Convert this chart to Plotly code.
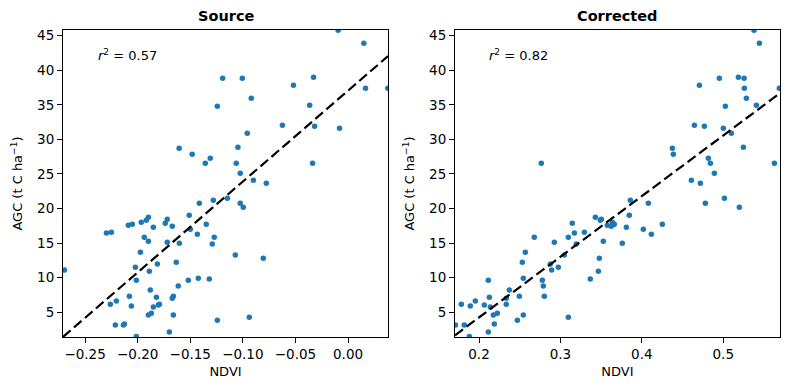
import plotly.graph_objects as go

# AGC values (t C ha^-1), shared by both panels
agc = [45.8, 43.9, 38.84, 38.84, 38.99, 37.83, 37.4, 37.4, 35.95, 34.8,
       34.94, 32.05, 31.9, 31.6, 30.9, 28.73, 27.86, 27.28, 26.56, 26.56,
       26.56, 28.87, 25.1, 24.1, 23.67, 21.5, 21.2, 20.78, 20.78, 20.2,
       19.05, 18.76, 18.47, 18.32, 18.03, 17.89, 17.74, 17.74, 17.6, 17.46,
       17.31, 17.0, 16.59, 16.45, 16.3, 15.87, 15.87, 15.29, 15.14, 15.0,
       14.86, 13.7, 13.27, 12.83, 12.25, 11.97, 11.53, 11.1, 10.95, 9.94,
       9.8, 9.65, 9.65, 8.79, 8.21, 7.34, 7.34, 7.19, 7.05, 6.62,
       6.18, 6.18, 6.04, 5.9, 5.75, 4.88, 4.6, 4.6, 3.87, 4.3,
       3.3, 3.15, 3.15, 2.14, 1.5]

ndvi_source = [-0.0094, 0.015, -0.1192, -0.1005, -0.0328, -0.0519, 0.0166, 0.0378, -0.0920, -0.1243,
               -0.0365, -0.0624, -0.0318, -0.0081, -0.0958, -0.1606, -0.1482, -0.1310, -0.1357, -0.1063,
               -0.0337, -0.1047, -0.1025, -0.0900, -0.0777, -0.1148, -0.1281, -0.1414, -0.1025, -0.0996,
               -0.1510, -0.1898, -0.1719, -0.1918, -0.1966, -0.1738, -0.2051, -0.1348, -0.2089, -0.1671,
               -0.1851, -0.1500, -0.2250, -0.2297, -0.1433, -0.1272, -0.1937, -0.1898, -0.1719, -0.1604,
               -0.1291, -0.1974, -0.1072, -0.0806, -0.1633, -0.1813, -0.2022, -0.2696, -0.1889, -0.1424,
               -0.1319, -0.2013, -0.1519, -0.1614, -0.1880, -0.2079, -0.1661, -0.1822, -0.1671, -0.2203,
               -0.2260, -0.1794, -0.1803, -0.2060, -0.1851, -0.1870, -0.1898, -0.1661, -0.1243, -0.0939,
               -0.2126, -0.2212, -0.2136, -0.1699, -0.2013]

ndvi_corrected = [0.5378, 0.5444, 0.4952, 0.5256, 0.5186, 0.4707, 0.5259, 0.5689, 0.5284, 0.5026,
                  0.5407, 0.4645, 0.4768, 0.5001, 0.5100, 0.4375, 0.4387, 0.4817, 0.4842, 0.5628,
                  0.2765, 0.5247, 0.4891, 0.4608, 0.4719, 0.5014, 0.3859, 0.4080, 0.4780, 0.5198,
                  0.3846, 0.3429, 0.3503, 0.3490, 0.3638, 0.3146, 0.4252, 0.3662, 0.3576, 0.3625,
                  0.3810, 0.4018, 0.3294, 0.3171, 0.4117, 0.3097, 0.2679, 0.3527, 0.2925, 0.3760,
                  0.3195, 0.2569, 0.3048, 0.3478, 0.2532, 0.2876, 0.2974, 0.2893, 0.3466, 0.2544,
                  0.3367, 0.2114, 0.2778, 0.2790, 0.2372, 0.2495, 0.2802, 0.2127, 0.2335, 0.1955,
                  0.1783, 0.2335, 0.2065, 0.1893, 0.2139, 0.2225, 0.2176, 0.2544, 0.2471, 0.3097,
                  0.2188, 0.1819, 0.1710, 0.2114, 0.1881]

# regression fits (slope, intercept) and r^2
fit_source = (131.4, 37.05)
fit_corrected = (87.7, -13.28)
r2_source = 0.57
r2_corrected = 0.82

xrange_source = [-0.271, 0.038]
xrange_corrected = [0.1705, 0.5697]
yrange = [1.43, 45.82]

titles = ["Source", "Corrected"]
xtick_source = [-0.25, -0.20, -0.15, -0.10, -0.05, 0.00]
xtick_corrected = [0.2, 0.3, 0.4, 0.5]
ytick_vals = [5, 10, 15, 20, 25, 30, 35, 40, 45]

FONT = "DejaVu Sans"
BLUE = "#1f77b4"

fig = go.Figure()

panels = [
    ("x", "y", ndvi_source, fit_source, xrange_source, r2_source, titles[0]),
    ("x2", "y2", ndvi_corrected, fit_corrected, xrange_corrected, r2_corrected, titles[1]),
]

for xa, ya, xs, (m, b), xr, r2, title in panels:
    fig.add_trace(go.Scatter(x=xs, y=agc, mode="markers", xaxis=xa, yaxis=ya,
                             marker=dict(color=BLUE, size=5.5, line=dict(width=0)),
                             showlegend=False, cliponaxis=True))
    lx = [xr[0], xr[1]]
    ly = [m * v + b for v in lx]
    fig.add_trace(go.Scatter(x=lx, y=ly, mode="lines", xaxis=xa, yaxis=ya,
                             line=dict(color="black", width=2.2, dash="10px,4.5px"),
                             showlegend=False))
    xdom = "x domain" if xa == "x" else "x2 domain"
    ydom = "y domain" if ya == "y" else "y2 domain"
    fig.add_annotation(x=0.1, y=0.918, xref=xdom, yref=ydom, xanchor="left", yanchor="middle",
                       text=f"<i>r</i><sup>2</sup> = {r2:.2f}", showarrow=False,
                       font=dict(family=FONT, size=13, color="black"))
    fig.add_annotation(x=0.5, y=1.0, xref=xdom, yref="paper", xanchor="center", yanchor="bottom",
                       yshift=4, text=f"<b>{title}</b>", showarrow=False,
                       font=dict(family=FONT, size=14.5, color="black"))

axis_common = dict(showgrid=False, zeroline=False, showline=True, linecolor="black", linewidth=1,
                   mirror=True, ticks="outside", ticklen=5, tickwidth=1, tickcolor="black",
                   tickfont=dict(family=FONT, size=13.5, color="black"))

fig.update_layout(
    width=789, height=390,
    margin=dict(l=63, r=9, t=30, b=53),
    paper_bgcolor="white", plot_bgcolor="white",
    xaxis=dict(domain=[0, 0.4533], range=xrange_source, tickvals=xtick_source,
               tickformat=".2f", title=dict(text="NDVI", standoff=5,
                                            font=dict(family=FONT, size=13, color="black")),
               **axis_common),
    xaxis2=dict(domain=[0.5467, 1], range=xrange_corrected, tickvals=xtick_corrected,
                tickformat=".1f", title=dict(text="NDVI", standoff=5,
                                             font=dict(family=FONT, size=13, color="black")),
                **axis_common),
    yaxis=dict(domain=[0, 1], range=yrange, tickvals=ytick_vals, anchor="x",
               title=dict(text="AGC (t C ha<sup>−1</sup>)", standoff=11,
                          font=dict(family=FONT, size=13, color="black")),
               **axis_common),
    yaxis2=dict(domain=[0, 1], range=yrange, tickvals=ytick_vals, anchor="x2",
                title=dict(text="AGC (t C ha<sup>−1</sup>)", standoff=11,
                           font=dict(family=FONT, size=13, color="black")),
                **axis_common),
)
for ax in ["xaxis", "xaxis2", "yaxis", "yaxis2"]:
    fig.layout[ax].automargin = False

fig.write_html("out.html")
